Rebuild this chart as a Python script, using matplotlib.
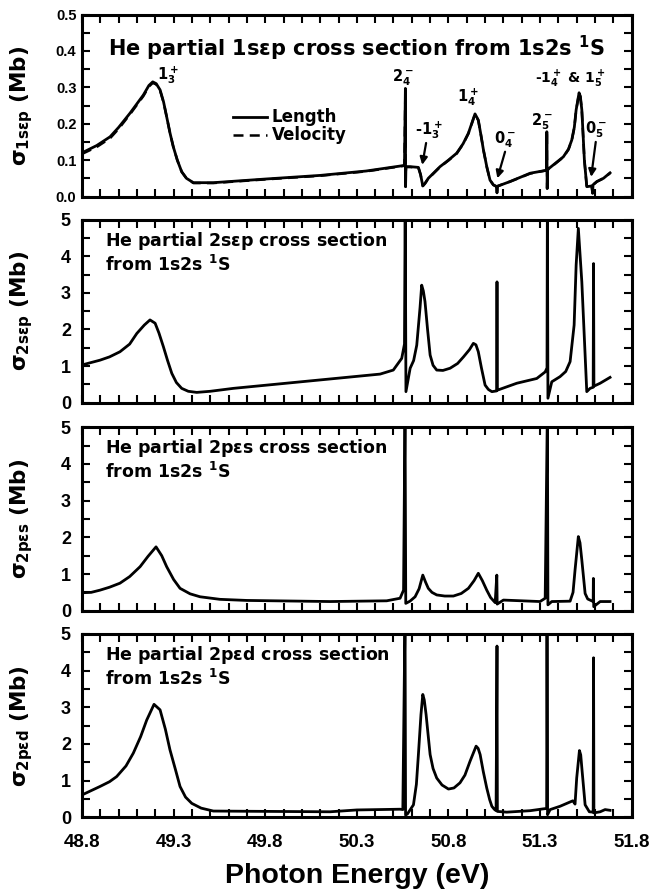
import numpy as np
import matplotlib.pyplot as plt
from matplotlib.ticker import MultipleLocator, FormatStrFormatter
from matplotlib.lines import Line2D

plt.rcParams['font.family'] = 'DejaVu Sans'
plt.rcParams['font.weight'] = 'bold'
plt.rcParams['mathtext.fontset'] = 'custom'
plt.rcParams['mathtext.rm'] = 'DejaVu Sans:bold'
plt.rcParams['mathtext.it'] = 'DejaVu Sans:bold'
plt.rcParams['mathtext.bf'] = 'DejaVu Sans:bold'

# ---- data (photon energy in eV, cross section in Mb) ----
e_1s = [48.800, 48.880, 48.953, 49.000, 49.062, 49.100, 49.135, 49.165, 49.186, 49.205,
        49.226, 49.245, 49.262, 49.280, 49.298, 49.320, 49.344, 49.370, 49.408, 49.517,
        49.800, 50.100, 50.350, 50.554, 50.560, 50.565, 50.566, 50.568, 50.591, 50.636,
        50.648, 50.660, 50.672, 50.690, 50.720, 50.754, 50.800, 50.845, 50.880, 50.909,
        50.930, 50.945, 50.963, 50.977, 50.991, 51.010, 51.027, 51.045, 51.064, 51.065,
        51.066, 51.136, 51.246, 51.335, 51.337, 51.339, 51.341, 51.427, 51.455, 51.473,
        51.487, 51.497, 51.513, 51.520, 51.528, 51.542, 51.555, 51.582, 51.587, 51.589,
        51.610, 51.646, 51.682]
len_1s = [0.120, 0.140, 0.164, 0.190, 0.229, 0.255, 0.279, 0.305, 0.315, 0.310,
          0.293, 0.260, 0.219, 0.175, 0.137, 0.100, 0.068, 0.050, 0.038, 0.038,
          0.048, 0.058, 0.070, 0.085, 0.086, 0.297, 0.027, 0.082, 0.082, 0.080,
          0.060, 0.029, 0.036, 0.050, 0.065, 0.082, 0.100, 0.119, 0.145, 0.174,
          0.205, 0.227, 0.210, 0.170, 0.128, 0.080, 0.045, 0.032, 0.027, 0.010,
          0.028, 0.041, 0.064, 0.072, 0.178, 0.022, 0.074, 0.109, 0.130, 0.155,
          0.190, 0.238, 0.285, 0.275, 0.238, 0.100, 0.027, 0.029, 0.009, 0.032,
          0.041, 0.050, 0.065]
vel_1s = [0.117, 0.136, 0.160, 0.186, 0.226, 0.252, 0.276, 0.302, 0.312, 0.308,
          0.291, 0.259, 0.219, 0.175, 0.137, 0.100, 0.068, 0.050, 0.037, 0.037,
          0.047, 0.057, 0.069, 0.084, 0.085, 0.297, 0.027, 0.081, 0.081, 0.079,
          0.060, 0.029, 0.036, 0.049, 0.064, 0.081, 0.099, 0.118, 0.144, 0.173,
          0.204, 0.226, 0.209, 0.170, 0.128, 0.080, 0.045, 0.032, 0.027, 0.010,
          0.028, 0.041, 0.063, 0.072, 0.178, 0.022, 0.073, 0.108, 0.129, 0.154,
          0.189, 0.237, 0.284, 0.274, 0.237, 0.100, 0.027, 0.029, 0.009, 0.032,
          0.041, 0.050, 0.064]

e_2s = [48.800, 48.898, 48.950, 49.007, 49.060, 49.099, 49.140, 49.171, 49.199, 49.220,
        49.244, 49.267, 49.290, 49.315, 49.344, 49.380, 49.426, 49.500, 49.626, 50.099,
        50.427, 50.499, 50.545, 50.560, 50.564, 50.568, 50.591, 50.610, 50.627, 50.645,
        50.654, 50.663, 50.672, 50.686, 50.700, 50.716, 50.736, 50.770, 50.809, 50.850,
        50.882, 50.915, 50.936, 50.950, 50.963, 50.980, 51.000, 51.018, 51.037, 51.063,
        51.065, 51.067, 51.173, 51.282, 51.328, 51.338, 51.340, 51.343, 51.364, 51.409,
        51.440, 51.464, 51.486, 51.497, 51.509, 51.528, 51.555, 51.573, 51.590, 51.592,
        51.594, 51.628, 51.682]
sig_2s = [1.03, 1.16, 1.25, 1.39, 1.60, 1.89, 2.12, 2.26, 2.17, 1.90,
          1.53, 1.15, 0.80, 0.55, 0.39, 0.31, 0.28, 0.31, 0.39, 0.62,
          0.78, 0.89, 1.21, 1.60, 5.50, 0.30, 0.94, 1.15, 1.57, 2.60,
          3.21, 3.05, 2.76, 2.00, 1.30, 1.02, 0.89, 0.88, 0.94, 1.07,
          1.25, 1.45, 1.62, 1.58, 1.39, 0.95, 0.48, 0.36, 0.30, 0.32,
          3.30, 0.34, 0.53, 0.66, 0.84, 0.95, 5.50, 0.12, 0.57, 0.71,
          0.85, 1.12, 2.12, 3.76, 4.76, 3.30, 0.30, 0.39, 0.42, 3.80,
          0.45, 0.53, 0.69]

e_2ps = [48.800, 48.850, 48.898, 48.950, 49.007, 49.060, 49.117, 49.160, 49.204, 49.235,
         49.262, 49.300, 49.335, 49.390, 49.444, 49.553, 49.700, 50.154, 50.463, 50.536,
         50.555, 50.563, 50.567, 50.590, 50.618, 50.640, 50.660, 50.675, 50.690, 50.710,
         50.736, 50.780, 50.827, 50.870, 50.909, 50.940, 50.963, 50.985, 51.009, 51.030,
         51.055, 51.064, 51.066, 51.100, 51.300, 51.328, 51.340, 51.343, 51.364, 51.464,
         51.480, 51.491, 51.509, 51.518, 51.528, 51.546, 51.560, 51.590, 51.591, 51.593,
         51.628, 51.682]
sig_2ps = [0.49, 0.50, 0.56, 0.64, 0.75, 0.93, 1.20, 1.48, 1.74, 1.50,
           1.20, 0.85, 0.61, 0.46, 0.38, 0.31, 0.28, 0.25, 0.27, 0.34,
           0.56, 5.50, 0.20, 0.26, 0.38, 0.60, 0.97, 0.78, 0.61, 0.50,
           0.43, 0.40, 0.40, 0.47, 0.61, 0.82, 1.02, 0.82, 0.56, 0.36,
           0.22, 0.97, 0.18, 0.29, 0.25, 0.34, 5.50, 0.16, 0.25, 0.26,
           0.50, 1.11, 2.02, 1.85, 1.38, 0.47, 0.32, 0.25, 0.88, 0.11,
           0.25, 0.25]

e_2pd = [48.800, 48.898, 48.950, 48.989, 49.040, 49.080, 49.120, 49.153, 49.193, 49.226,
         49.255, 49.280, 49.310, 49.335, 49.365, 49.399, 49.450, 49.517, 50.154, 50.300,
         50.536, 50.551, 50.563, 50.566, 50.576, 50.609, 50.625, 50.636, 50.650, 50.660,
         50.668, 50.678, 50.690, 50.700, 50.716, 50.736, 50.765, 50.800, 50.830, 50.863,
         50.890, 50.918, 50.951, 50.962, 50.973, 50.990, 51.009, 51.025, 51.037, 51.050,
         51.060, 51.065, 51.067, 51.118, 51.246, 51.318, 51.336, 51.338, 51.341, 51.355,
         51.409, 51.479, 51.491, 51.500, 51.515, 51.522, 51.528, 51.546, 51.569, 51.590,
         51.592, 51.594, 51.628, 51.655, 51.682]
sig_2pd = [0.61, 0.84, 0.97, 1.11, 1.40, 1.75, 2.20, 2.65, 3.08, 2.93,
           2.40, 1.84, 1.30, 0.84, 0.55, 0.38, 0.25, 0.17, 0.15, 0.20,
           0.22, 0.21, 5.50, 0.06, 0.09, 0.34, 0.90, 1.71, 2.80, 3.35,
           3.20, 2.80, 2.20, 1.71, 1.33, 1.07, 0.88, 0.77, 0.80, 0.94,
           1.15, 1.53, 1.94, 1.88, 1.71, 1.25, 0.80, 0.48, 0.30, 0.22,
           0.18, 4.67, 0.16, 0.14, 0.18, 0.23, 0.24, 5.50, 0.07, 0.21,
           0.30, 0.45, 0.36, 1.07, 1.82, 1.70, 1.35, 0.34, 0.15, 0.14,
           4.35, 0.12, 0.15, 0.21, 0.19]

xticks = [48.8, 49.3, 49.8, 50.3, 50.8, 51.3, 51.8]

fig = plt.figure(figsize=(6.52, 8.90), dpi=100)
rects = [[0.1258, 0.7792, 0.843, 0.2045],
         [0.1258, 0.5476, 0.843, 0.2056],
         [0.1258, 0.3138, 0.843, 0.2062],
         [0.1258, 0.0817, 0.843, 0.2060]]
axes = [fig.add_axes(r) for r in rects]

series = [(e_1s, len_1s), (e_2s, sig_2s), (e_2ps, sig_2ps), (e_2pd, sig_2pd)]
ylabels = [r'$\sigma_{1s\varepsilon p}$ (Mb)', r'$\sigma_{2s\varepsilon p}$ (Mb)',
           r'$\sigma_{2p\varepsilon s}$ (Mb)', r'$\sigma_{2p\varepsilon d}$ (Mb)']

for i, ax in enumerate(axes):
    x, y = series[i]
    if i == 0:
        ax.plot(e_1s, vel_1s, color='k', lw=1.8, ls=(0, (4, 2.5)), label='Velocity', zorder=2)
    ax.plot(x, y, color='k', lw=2.0, solid_joinstyle='round', zorder=3)
    ax.set_xlim(48.8, 51.8)
    ax.set_xticks(xticks)
    ax.xaxis.set_minor_locator(MultipleLocator(0.1))
    ax.xaxis.set_major_formatter(FormatStrFormatter('%.1f'))
    if i == 0:
        ax.set_ylim(0, 0.5)
        ax.yaxis.set_major_locator(MultipleLocator(0.1))
        ax.yaxis.set_minor_locator(MultipleLocator(0.05))
        ax.yaxis.set_major_formatter(FormatStrFormatter('%.1f'))
        ypad, ysize = 4, 10.5
    else:
        ax.set_ylim(0, 5)
        ax.yaxis.set_major_locator(MultipleLocator(1))
        ax.yaxis.set_minor_locator(MultipleLocator(0.5))
        ypad, ysize = 8, 13
    ax.tick_params(which='both', direction='in', top=True, right=True,
                   width=1.5, length=5.5)
    ax.tick_params(axis='y', which='major', pad=ypad, labelsize=ysize,
                   labelfontfamily='Liberation Sans')
    ax.tick_params(axis='x', which='major', pad=12, labelsize=13.5,
                   labelfontfamily='Liberation Sans')
    if i < 3:
        ax.tick_params(axis='x', labelbottom=False)
    for sp in ax.spines.values():
        sp.set_linewidth(2.2)
    ax.set_ylabel(ylabels[i], fontsize=15.5, fontweight='bold')
    ax.yaxis.set_label_coords(-0.085, 0.5)

axes[3].set_xlabel('Photon Energy (eV)', fontsize=20.5, fontfamily='Liberation Sans',
                   fontweight='bold', labelpad=9)

# ---- panel texts ----
ax = axes[0]
ax.text(0.047, 0.816, r'He partial 1s$\varepsilon$p cross section from 1s2s $^{1}$S',
        transform=ax.transAxes, fontsize=15, va='center', ha='left')
names = ['2s$\\varepsilon$p', '2p$\\varepsilon$s', '2p$\\varepsilon$d']
for ax, nm in zip(axes[1:], names):
    ax.text(0.042, 0.885, 'He partial ' + nm + ' cross section', transform=ax.transAxes,
            fontsize=12.5, va='center', ha='left')
    ax.text(0.042, 0.755, 'from 1s2s $^{1}$S', transform=ax.transAxes,
            fontsize=12.5, va='center', ha='left')

ax = axes[0]
fs = 10.5
ax.text(49.27, 0.333, r'$1_3^+$', fontsize=fs, ha='center', va='center')
ax.text(50.552, 0.326, r'$2_4^-$', fontsize=fs, ha='center', va='center')
ax.text(50.694, 0.183, r'-$1_3^+$', fontsize=fs, ha='center', va='center')
ax.text(50.907, 0.273, r'$1_4^+$', fontsize=fs, ha='center', va='center')
ax.text(51.109, 0.155, r'$0_4^-$', fontsize=fs, ha='center', va='center')
ax.text(51.31, 0.205, r'$2_5^-$', fontsize=fs, ha='center', va='center')
ax.text(51.464, 0.323, r'-$1_4^+$ & $1_5^+$', fontsize=10, ha='center', va='center')
ax.text(51.606, 0.183, r'$0_5^-$', fontsize=fs, ha='center', va='center')
arrow = dict(arrowstyle='-|>', color='k', lw=1.6, mutation_scale=11, shrinkA=0, shrinkB=0)
ax.annotate('', xy=(50.657, 0.087), xytext=(50.678, 0.147), arrowprops=arrow)
ax.annotate('', xy=(51.067, 0.050), xytext=(51.109, 0.123), arrowprops=arrow)
ax.annotate('', xy=(51.579, 0.054), xytext=(51.604, 0.150), arrowprops=arrow)

handles = [Line2D([], [], color='k', lw=2.0), Line2D([], [], color='k', lw=1.8, ls=(0, (4, 2.5)))]
ax.legend(handles, ['Length', 'Velocity'], loc='upper left', bbox_to_anchor=(0.275, 0.484),
          frameon=False, fontsize=12, handlelength=2.0, handletextpad=0.3,
          borderpad=0, borderaxespad=0, labelspacing=0.0)

fig.savefig('out.png', dpi=100)
